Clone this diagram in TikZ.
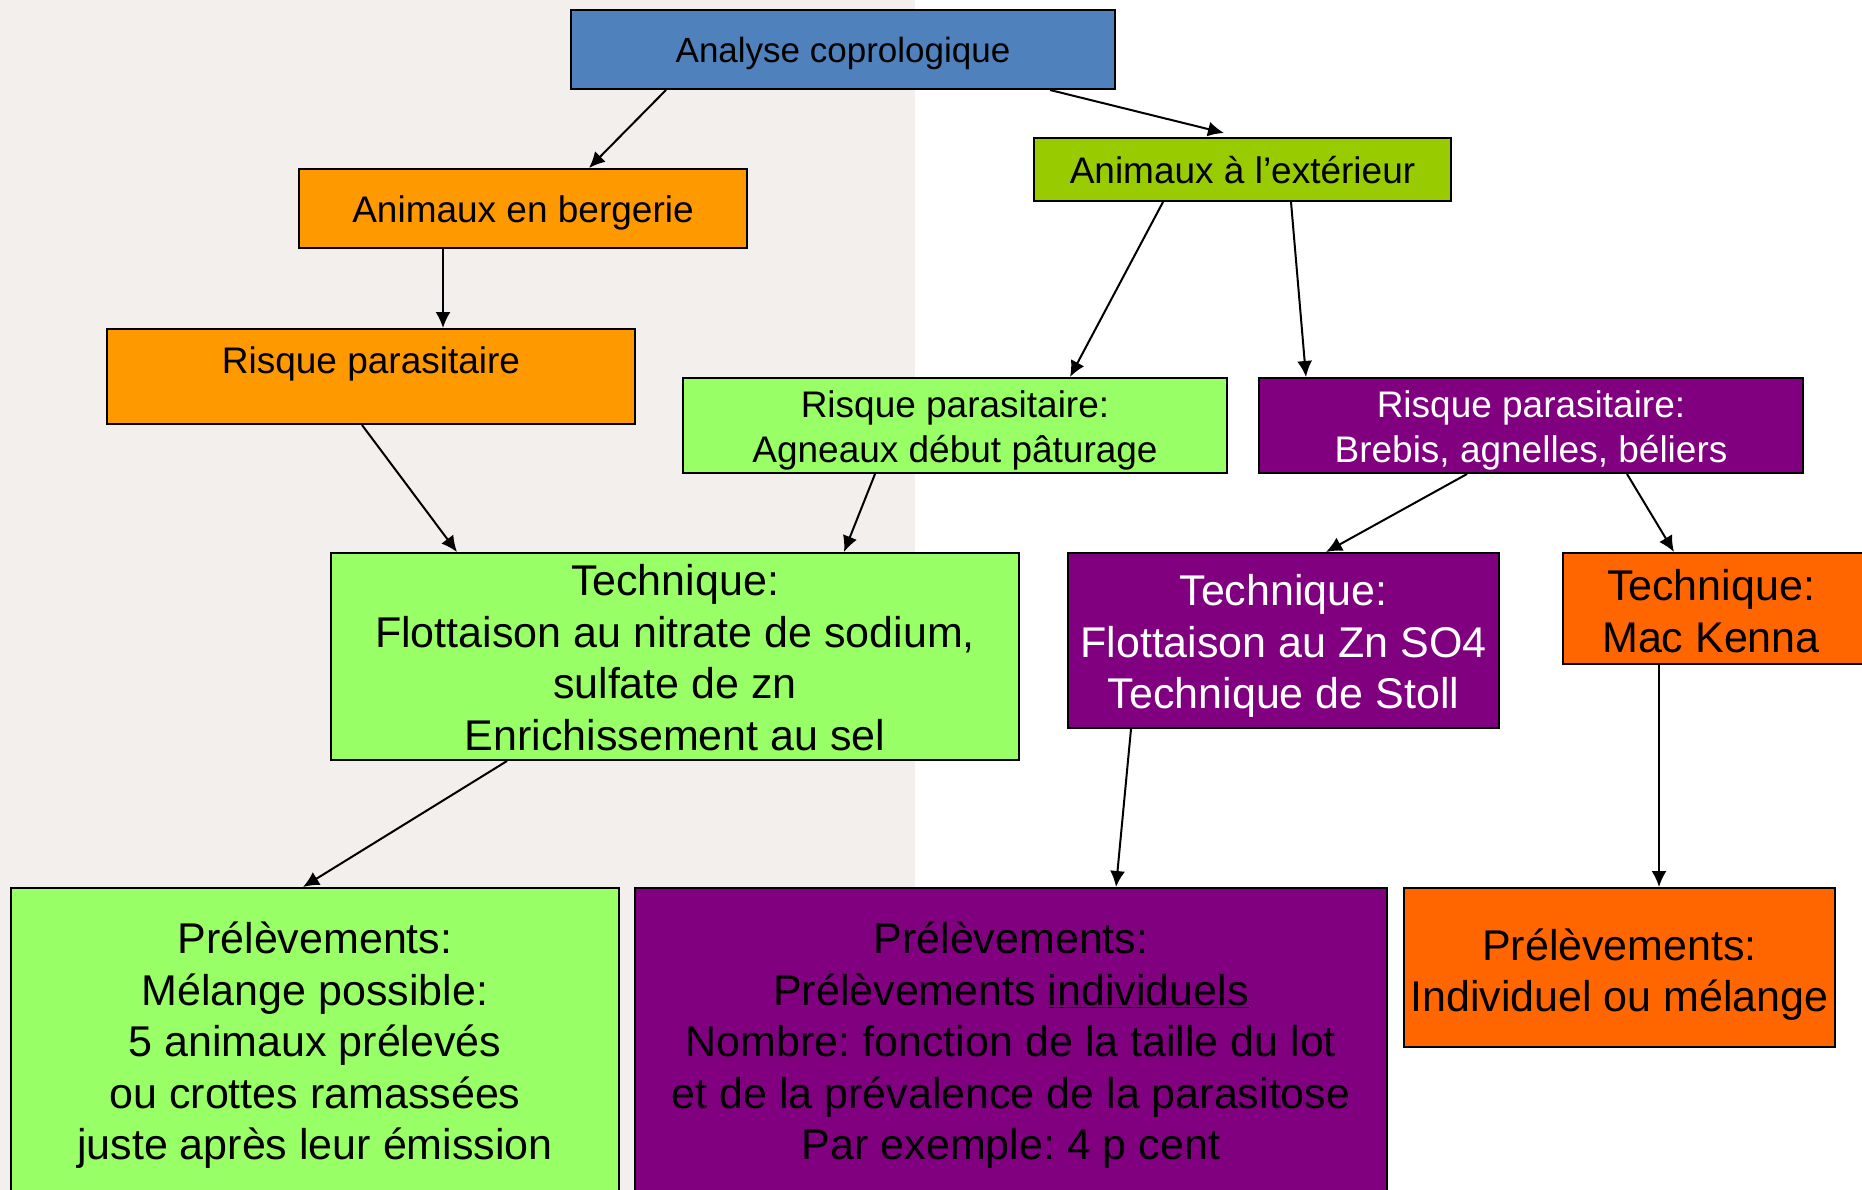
\documentclass[tikz,border=0pt]{standalone}
\usepackage{fontspec}
\setmainfont{Liberation Sans}
\usetikzlibrary{arrows.meta}
\definecolor{bgg}{HTML}{F2EFEC}
\definecolor{blueA}{HTML}{4F81BD}
\definecolor{orA}{HTML}{FF9900}
\definecolor{grA}{HTML}{99CC00}
\definecolor{grB}{HTML}{99FF66}
\definecolor{puA}{HTML}{800080}
\definecolor{orB}{HTML}{FF6600}
\tikzset{
  box/.style={draw=black, line width=2pt, inner sep=0pt},
  fm/.style={font=\frenchspacing\fontsize{37}{45}\selectfont},
  fl/.style={font=\frenchspacing\fontsize{43}{51.5}\selectfont},
  txt/.style={inner sep=0pt, align=center},
  arr/.style={line width=2pt, -{Latex[length=16pt,width=15pt]}},
}
\begin{document}
\begin{tikzpicture}[x=1pt,y=-1pt]
\clip (0,0) rectangle (1862,1190);
\fill[bgg] (0,0) rectangle (915,1190);
\fill[white] (915,0) rectangle (1862,1190);
% boxes
\node[box, fill=blueA, minimum width=544pt, minimum height=79pt] (A) at (843,49.5) {};
\node[txt, font=\fontsize{35}{42}\selectfont] (At) at (843,53) {Analyse coprologique};
\node[box, fill=orA, minimum width=448pt, minimum height=79pt] (B) at (523,208.5) {};
\node[txt, fm] (Bt) at (523,213) {Animaux en bergerie};
\node[box, fill=grA, minimum width=417pt, minimum height=63pt] (C) at (1242.5,169.5) {};
\node[txt, fm] (Ct) at (1242.5,170.5) {Animaux à l’extérieur};
\node[box, fill=orA, minimum width=528pt, minimum height=95pt] (D) at (371,376.5) {};
\node[txt, fm] (Dt) at (371,363.5) {Risque parasitaire};
\node[box, fill=grB, minimum width=544pt, minimum height=95pt] (E) at (955,425.5) {};
\node[txt, fm] (Et) at (955,430) {Risque parasitaire:\\Agneaux début pâturage};
\node[box, fill=puA, minimum width=544pt, minimum height=95pt] (F) at (1531,425.5) {};
\node[txt, fm, text=white] (Ft) at (1531,430) {Risque parasitaire:\\Brebis, agnelles, béliers};
\node[box, fill=grB, minimum width=688pt, minimum height=207pt] (G) at (675,656.5) {};
\node[txt, fl] (Gt) at (675,657.5) {Technique:\\Flottaison au nitrate de sodium,\\sulfate de zn\\Enrichissement au sel};
\node[box, fill=puA, minimum width=431pt, minimum height=175pt] (H) at (1283.5,640.5) {};
\node[txt, fl, text=white] (Ht) at (1283.5,646) {Technique:\\Flottaison au Zn SO4\\Technique de Stoll};
\node[box, fill=orB, minimum width=307pt, minimum height=111pt] (I) at (1716.5,608.5) {};
\node[txt, fl] (It) at (1711,611) {Technique:\\Mac Kenna};
\node[box, fill=grB, minimum width=608pt, minimum height=312pt] (J) at (315,1044) {};
\node[txt, fl] (Jt) at (315,1045.5) {Prélèvements:\\Mélange possible:\\5 animaux prélevés\\ou crottes ramassées\\juste après leur émission};
\node[box, fill=puA, minimum width=752pt, minimum height=312pt] (K) at (1011,1044) {};
\node[txt, fl] (Kt) at (1011,1045.5) {Prélèvements:\\Prélèvements \underline{individuels}\\Nombre: fonction de la taille du lot\\et de la prévalence de la parasitose\\Par exemple: 4 p cent};
\node[box, fill=orB, minimum width=431pt, minimum height=159pt] (L) at (1619.5,967.5) {};
\node[txt, fl] (Lt) at (1619.5,974.5) {Prélèvements:\\Individuel ou mélange};
% connectors
\draw[arr] ([xshift=-177pt]A.south) -- ([xshift=66pt]B.north);
\draw[arr] ([xshift=207pt]A.south) -- ([xshift=-18.5pt,yshift=4pt]C.north);
\draw[arr] ([xshift=-80pt]B.south) -- ([xshift=72pt]D.north);
\draw[arr] ([xshift=-79.5pt]C.south) -- ([xshift=115pt]E.north);
\draw[arr] ([xshift=48.5pt]C.south) -- ([xshift=-225pt]F.north);
\draw[arr] ([xshift=-9pt]D.south) -- ([xshift=-218pt]G.north);
\draw[arr] ([xshift=-80pt]E.south) -- ([xshift=169pt]G.north);
\draw[arr] ([xshift=-64pt]F.south) -- ([xshift=42.5pt]H.north);
\draw[arr] ([xshift=96pt]F.south) -- ([xshift=-42.5pt]I.north);
\draw[arr] ([xshift=-168pt]G.south) -- ([xshift=-12pt]J.north);
\draw[arr] ([xshift=-152.5pt]H.south) -- ([xshift=105pt]K.north);
\draw[arr] ([xshift=-57.5pt]I.south) -- ([xshift=39.5pt]L.north);
\end{tikzpicture}
\end{document}
